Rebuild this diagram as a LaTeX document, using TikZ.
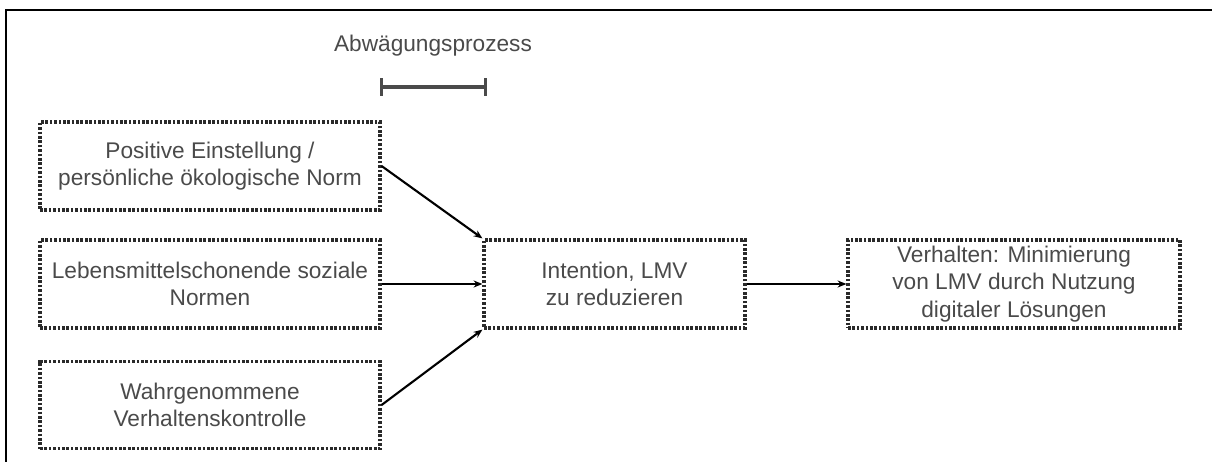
\documentclass[tikz,border=0pt]{standalone}
\usepackage{fontspec}
\setmainfont{Liberation Sans}
\usetikzlibrary{positioning, arrows.meta, calc}
\definecolor{txtgray}{HTML}{4A4A4A}
\definecolor{boxgray}{HTML}{2A2A2A}
\tikzset{
  modell/.style={
	>={Stealth[length=5pt,width=4pt]}, % small bold arrow heads
	font=\fontsize{12.9}{15.5}\selectfont, % text size of the boxes
	every node/.style={text=txtgray}, % gray text everywhere
  },
  kasten/.style={draw=boxgray, dash pattern=on 1.5pt off 1pt, line width=1.8pt, align=center, inner sep=0pt}, % the dotted boxes
  pfeil/.style={->, line width=1.2pt, black}, % the connecting arrows
}

\begin{document}
\begin{tikzpicture}[modell]
\useasboundingbox (0,0) rectangle (24.24,-9.24);
% frame on the left and at the top
\draw[line width=1.2pt] (0.12,-9.24) -- (0.12,-0.2) -- (24.24,-0.2);

% process bar
\node (abw) at (8.66,-0.92) {Abw\"agungsprozess};
\coordinate (a1) at (7.6,-1.74);
\coordinate (a2) at (9.74,-1.74);
\draw[{Bar[width=10pt]}-{Bar[width=10pt]}, line width=1.8pt, txtgray] (a1) -- (a2);

% input boxes
\node[kasten, minimum width=6.8cm, minimum height=1.76cm] (einst) at (4.2,-3.32) {Positive Einstellung /\\pers\"onliche \"okologische Norm};
\node[kasten, minimum width=6.8cm, minimum height=1.76cm] (norm) at (4.2,-5.68) {Lebensmittelschonende soziale\\Normen};
\node[kasten, minimum width=6.8cm, minimum height=1.74cm] (kontr) at (4.2,-8.1) {Wahrgenommene\\Verhaltenskontrolle};

% intention and behaviour
\node[kasten, minimum width=5.22cm, minimum height=1.76cm] (int) at (12.29,-5.68) {Intention, LMV\\zu reduzieren};
\node[kasten, minimum width=6.64cm, minimum height=1.76cm] (verh) at (20.28,-5.68) {Verhalten: Minimierung\\von LMV durch Nutzung\\digitaler L\"osungen};

\draw[pfeil] (einst.east) -- (int.north west);
\draw[pfeil] (norm.east) -- (int.west);
\draw[pfeil] (kontr.east) -- (int.south west);
\draw[pfeil] (int.east) -- (verh.west);
\end{tikzpicture}
\end{document}
